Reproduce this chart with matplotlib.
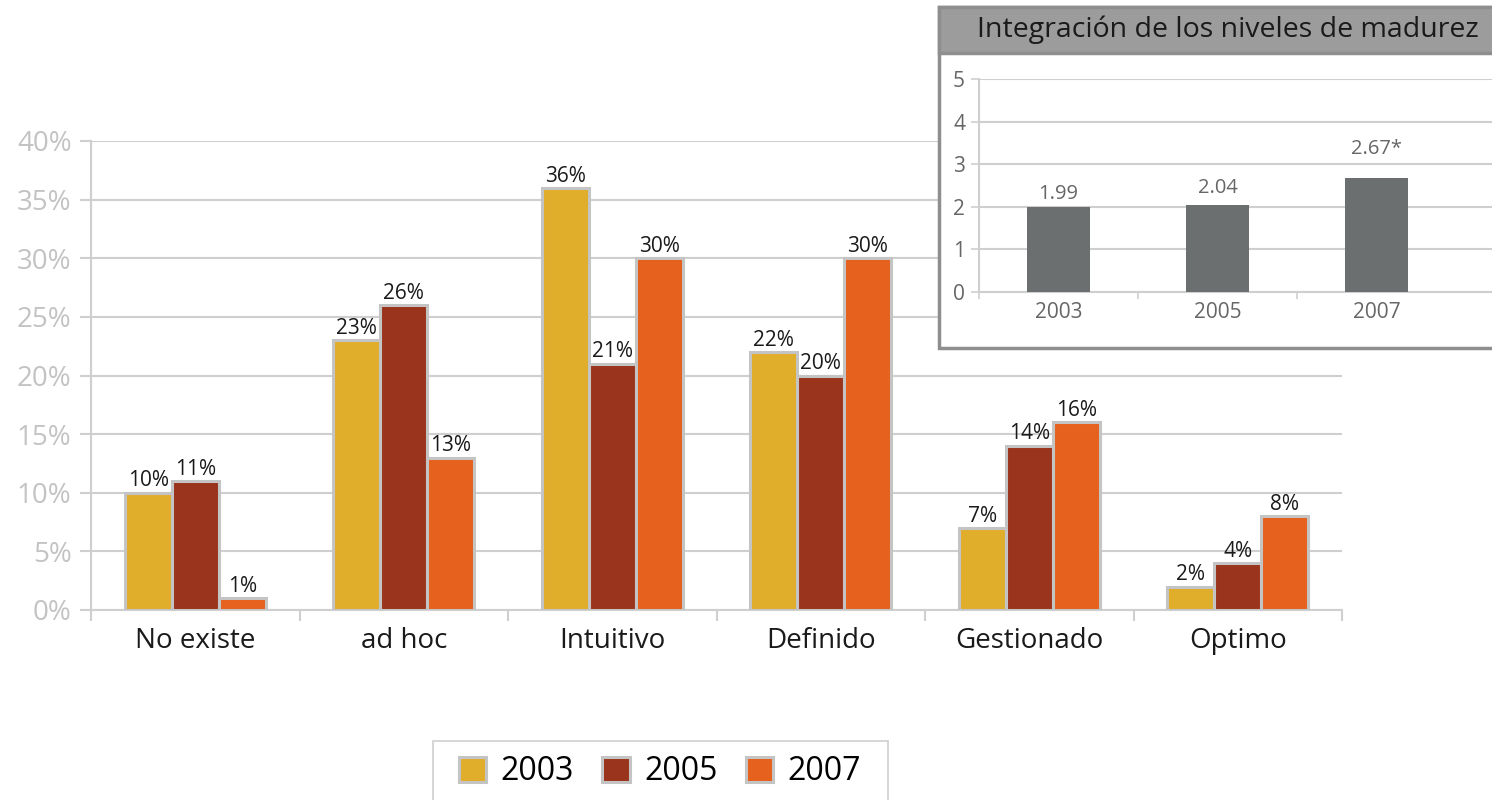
import numpy as np
import matplotlib
matplotlib.use("Agg")
import matplotlib.pyplot as plt
from matplotlib.patches import Rectangle, Patch

plt.rcParams["font.family"] = ["Open Sans", "DejaVu Sans"]

# Datos del gráfico principal
niveles = ["No existe", "ad hoc", "Intuitivo", "Definido", "Gestionado", "Optimo"]
anios = ["2003", "2005", "2007"]
v2003 = [10, 23, 36, 22, 7, 2]
v2005 = [11, 26, 21, 20, 14, 4]
v2007 = [1, 13, 30, 30, 16, 8]
colores = ["#e0ae2a", "#9b341c", "#e6611e"]

# Datos del recuadro (integración)
media_anios = ["2003", "2005", "2007"]
media_valores = [1.99, 2.04, 2.67]
media_etiquetas = ["1.99", "2.04", "2.67*"]

W, H = 1492, 800
fig = plt.figure(figsize=(W / 100, H / 100), dpi=100)

def fx(px):
    return px / W

def fy(py):
    return 1 - py / H

gris_borde = "#c4c4c4"
gris_rejilla = "#cfcfcf"

# ---- gráfico principal ----
ax = fig.add_axes([fx(91), fy(610), fx(1342) - fx(91), fy(141) - fy(610)])
x = np.arange(len(niveles))
ancho = 0.225
for i, (serie, color) in enumerate(zip([v2003, v2005, v2007], colores)):
    pos = x + (i - 1) * ancho
    ax.bar(pos, serie, ancho, color=color, edgecolor=gris_borde,
           linewidth=2.2, zorder=3)
    for xi, v in zip(pos, serie):
        ax.annotate(f"{v}%", (xi, v), xytext=(0, 1), textcoords="offset points",
                    ha="center", va="bottom", fontsize=15, color="#1a1a1a",
                    zorder=4)

ax.set_xlim(-0.5, len(niveles) - 0.5)
ax.set_ylim(0, 40)
ax.set_yticks(range(0, 41, 5))
ax.set_yticklabels([f"{t}%" for t in range(0, 41, 5)])
ax.yaxis.grid(True, color=gris_rejilla, linewidth=1.5, zorder=0)
ax.set_xticks(x)
ax.set_xticklabels(niveles)
ax.set_xticks(np.arange(-0.5, len(niveles) + 0.5, 1), minor=True)
ax.tick_params(axis="x", which="major", length=0, pad=12, labelsize=20,
               labelcolor="#1a1a1a")
ax.tick_params(axis="x", which="minor", length=8, width=1.5, color=gris_rejilla)
ax.tick_params(axis="y", length=8, width=1.5, color=gris_rejilla, pad=6,
               labelsize=20, labelcolor="#c3c3c3")
for lado in ["top", "right"]:
    ax.spines[lado].set_visible(False)
for lado in ["left", "bottom"]:
    ax.spines[lado].set_color(gris_rejilla)
    ax.spines[lado].set_linewidth(1.5)

# ---- leyenda ----
fig.patches.append(Rectangle((fx(433), fy(815)), fx(888) - fx(433), fy(741) - fy(815),
                             transform=fig.transFigure, facecolor="white",
                             edgecolor=gris_rejilla, linewidth=1.2))
manejadores = [Patch(facecolor=c, edgecolor=gris_borde, linewidth=2.2) for c in colores]
fig.legend(manejadores, anios, loc="center", bbox_to_anchor=(fx(660), fy(772)),
           ncol=3, frameon=False, fontsize=23, handlelength=0.85, handleheight=0.85,
           handletextpad=0.45, columnspacing=0.9)

# ---- recuadro de integración ----
fig.patches.append(Rectangle((fx(939), fy(348)), fx(1560) - fx(939), fy(7) - fy(348),
                             transform=fig.transFigure, facecolor="white",
                             edgecolor="#8e8e8e", linewidth=2.5, zorder=5))
fig.patches.append(Rectangle((fx(939), fy(53)), fx(1560) - fx(939), fy(7) - fy(53),
                             transform=fig.transFigure, facecolor="#9c9c9c",
                             edgecolor="#8e8e8e", linewidth=2.5, zorder=5))
fig.text(fx(1228), fy(30), "Integración de los niveles de madurez", ha="center",
         va="center", fontsize=20.5, color="#1a1a1a", zorder=6)

ax2 = fig.add_axes([fx(979), fy(292), fx(1492) - fx(979), fy(79) - fy(292)])
ax2.set_zorder(6)
ax2.patch.set_alpha(0)
xm = np.arange(len(media_anios))
ax2.bar(xm, media_valores, 0.4, color="#6c6f70", zorder=3)
desplaz = [2, 5, 14]
for xi, v, et, d in zip(xm, media_valores, media_etiquetas, desplaz):
    ax2.annotate(et, (xi, v), xytext=(0, d), textcoords="offset points",
                 ha="center", va="bottom", fontsize=14.5, color="#666666")
ax2.set_xlim(-0.5, -0.5 + (1492 - 979) / 159)
ax2.set_ylim(0, 5)
ax2.set_yticks(range(0, 6))
ax2.yaxis.grid(True, color=gris_rejilla, linewidth=1.5, zorder=0)
ax2.set_xticks(xm)
ax2.set_xticklabels(media_anios)
ax2.set_xticks([-0.5, 0.5, 1.5], minor=True)
ax2.tick_params(axis="x", which="major", length=0, pad=7, labelsize=15,
                labelcolor="#666666")
ax2.tick_params(axis="x", which="minor", length=5, width=1.2, color=gris_rejilla)
ax2.tick_params(axis="y", length=6, width=1.2, color=gris_rejilla, pad=4,
                labelsize=15, labelcolor="#666666")
for lado in ["top", "right"]:
    ax2.spines[lado].set_visible(False)
for lado in ["left", "bottom"]:
    ax2.spines[lado].set_color(gris_rejilla)
    ax2.spines[lado].set_linewidth(1.5)

fig.savefig("out.png", dpi=100)
